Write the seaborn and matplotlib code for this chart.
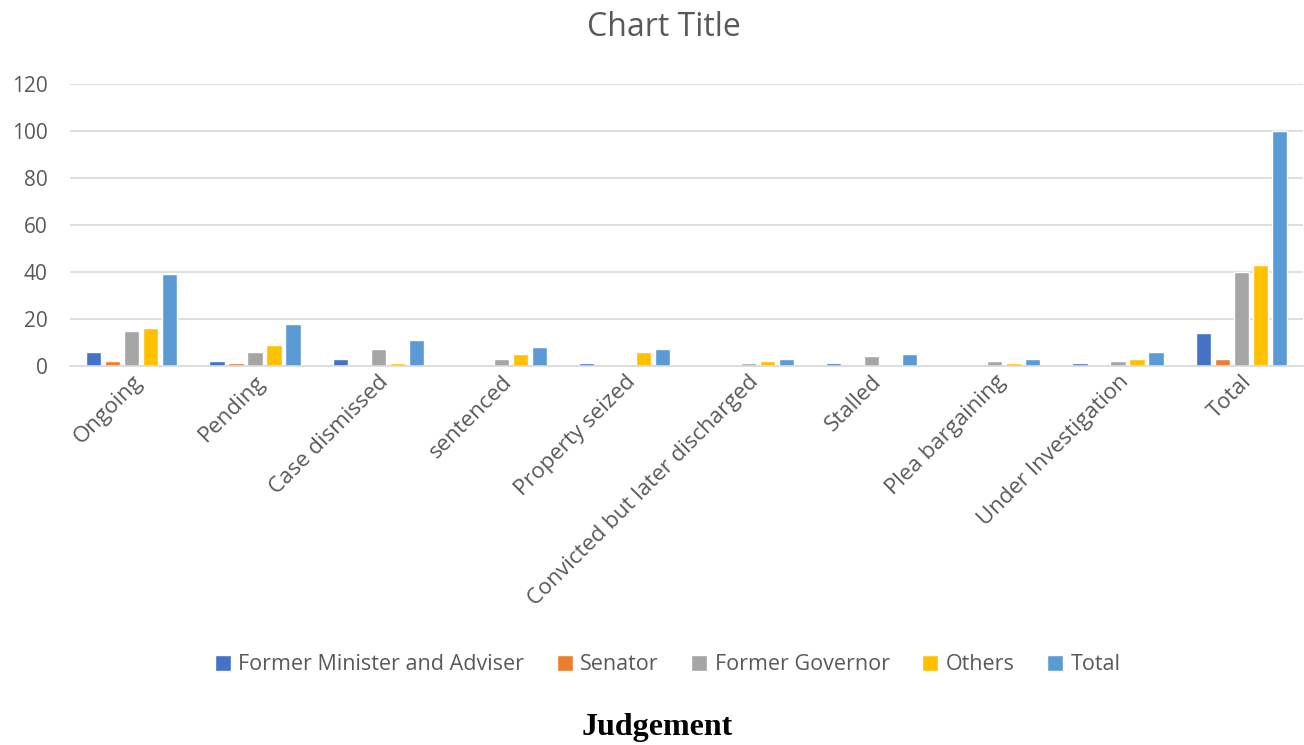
import matplotlib
matplotlib.use("Agg")
import matplotlib.pyplot as plt
import seaborn as sns
import pandas as pd

categories = ["Ongoing", "Pending", "Case dismissed", "sentenced", "Property seized",
              "Convicted but later discharged", "Stalled", "Plea bargaining",
              "Under Investigation", "Total"]
series_names = ["Former Minister and Adviser", "Senator", "Former Governor", "Others", "Total"]
former_minister = [6, 2, 3, 0, 1, 0, 1, 0, 1, 14]
senator = [2, 1, 0, 0, 0, 0, 0, 0, 0, 3]
former_governor = [15, 6, 7, 3, 0, 1, 4, 2, 2, 40]
others = [16, 9, 1, 5, 6, 2, 0, 1, 3, 43]
total = [39, 18, 11, 8, 7, 3, 5, 3, 6, 100]
colors = ["#4472C4", "#ED7D31", "#A5A5A5", "#FFC000", "#5B9BD5"]

rows = []
for name, vals in zip(series_names, [former_minister, senator, former_governor, others, total]):
    for c, v in zip(categories, vals):
        rows.append({"Judgement": c, "Series": name, "Value": v})
df = pd.DataFrame(rows)

sns.set_theme(style="white")
plt.rcParams["font.family"] = ["Open Sans", "DejaVu Sans"]

fig = plt.figure(figsize=(13.04, 7.45), dpi=100)
ax = fig.add_axes([70 / 1304, 0.509, 1233 / 1304, 0.378])

sns.barplot(data=df, x="Judgement", y="Value", hue="Series", hue_order=series_names,
            order=categories, palette=colors, width=0.77, gap=0.2, ax=ax,
            saturation=1, legend=True, errorbar=None)

ax.set_ylim(0, 120)
ax.set_yticks(range(0, 121, 20))
ax.set_xlim(-0.5, len(categories) - 0.5)
ax.yaxis.grid(True, color="#D9D9D9", linewidth=1.2)
ax.set_axisbelow(True)
for s in ["top", "right", "left"]:
    ax.spines[s].set_visible(False)
ax.spines["bottom"].set_color("#D9D9D9")
ax.spines["bottom"].set_linewidth(1.2)
ax.tick_params(axis="both", length=0, colors="#595959")
ax.tick_params(axis="y", pad=16, labelsize=15)
ax.tick_params(axis="x", pad=4, labelsize=16)
plt.setp(ax.get_xticklabels(), rotation=45, ha="right", rotation_mode="anchor")
ax.set_xlabel("")
ax.set_ylabel("")

fig.text(0.509, 1 - 27 / 745, "Chart Title", ha="center", va="center", fontsize=23, color="#595959")

handles, labels = ax.get_legend_handles_labels()
ax.legend_.remove()
leg = fig.legend(handles, labels, loc="center", bbox_to_anchor=(0.512, 1 - 665 / 745), ncol=5,
                 frameon=False, fontsize=15.5, handlelength=0.75, handleheight=0.75,
                 handletextpad=0.35, columnspacing=1.5)
for t in leg.get_texts():
    t.set_color("#595959")

fig.text(0.504, 1 - 727 / 745, "Judgement", ha="center", va="center", fontsize=23,
         fontweight="bold", family="Liberation Serif", color="black")

fig.savefig("out.png", dpi=100)
